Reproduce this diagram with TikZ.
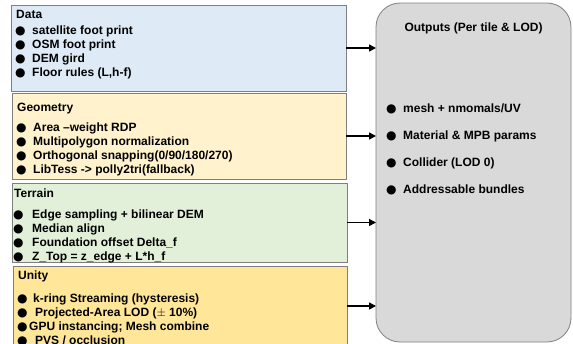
\documentclass[tikz,border=0pt]{standalone}
\usepackage{fontspec}
\setmainfont{Liberation Sans}
\newfontfamily\symfont{DejaVu Sans}
\usetikzlibrary{positioning,arrows.meta}

\definecolor{datafill}{HTML}{DEEBF7}
\definecolor{geomfill}{HTML}{FFF2CC}
\definecolor{terrfill}{HTML}{E2F0D9}
\definecolor{unityfill}{HTML}{FFE699}
\definecolor{outfill}{HTML}{D9D9D9}
\definecolor{rim}{HTML}{7F7F7F}

\newcommand{\bul}[1][16pt]{\makebox[#1][l]{\symfont\fontsize{12}{14}\selectfont\kern-1pt ●}}

\begin{document}
\begin{tikzpicture}[x=1pt, y=-1pt,
	panel/.style={draw=rim, line width=0.8pt, inner sep=0pt, outer sep=0pt, anchor=north west},
	list/.style={font=\bfseries\fontsize{12}{14}\selectfont, align=left, inner sep=0pt},
	feed/.style={-{Triangle[length=7pt,width=7pt]}, line width=1.6pt}]
	\useasboundingbox (0,0) rectangle (573,343);
	\clip (0,0) rectangle (573,343);

	% input panels
	\node (data) [panel, fill=datafill, minimum width=335pt, minimum height=86pt] at (11,5) {};
	\node (geom) [panel, fill=geomfill, minimum width=334pt, minimum height=86pt] at (12,93) {};
	\node (terr) [panel, fill=terrfill, minimum width=335pt, minimum height=79pt] at (12,183) {};
	\node (unity) [panel, fill=unityfill, minimum width=334pt, minimum height=80pt] at (13,266) {};
	\node (outputs) [panel, fill=outfill, rounded corners=24pt, minimum width=195pt, minimum height=339pt] at (376,3) {};

	\node (datatxt) [list, below right=4.7pt and 5pt of data.north west]
		{Data\\[2pt]
		\bul satellite foot print\\
		\bul OSM foot print\\
		\bul DEM gird\\
		\bul Floor rules (L,h-f)};
	\node (geomtxt) [list, below right=9.7pt and 5pt of geom.north west]
		{Geometry\\[6pt]
		\bul Area –weight RDP\\
		\bul Multipolygon normalization\\
		\bul Orthogonal snapping(0/90/180/270)\\
		\bul LibTess -> polly2tri(fallback)};
	\node (terrtxt) [list, below right=5.7pt and 2pt of terr.north west]
		{Terrain\\[7pt]
		\bul[18pt]Edge sampling + bilinear DEM\\
		\bul[18pt]Median align\\
		\bul[18pt]Foundation offset Delta\_f\\
		\bul[18pt]Z\_Top = z\_edge + L*h\_f};
	\node (unitytxt) [list, below right=4.7pt and 5pt of unity.north west]
		{Unity\\[9pt]
		\bul[15pt]k-ring Streaming (hysteresis)\\
		\bul[17pt]Projected-Area LOD ($\pm$ 10\%)\\
		\bul[11pt]GPU instancing; Mesh combine\\
		\bul[17pt]PVS / occlusion};

	% outputs
	\node (outtitle) [list, below=19.6pt of outputs.north] {Outputs (Per tile \& LOD)};
	\node (outlist) [list, font=\bfseries\fontsize{12}{27}\selectfont, below right=100.5pt and 11pt of outputs.north west]
		{\bul mesh + nmomals/UV\\
		\bul Material \& MPB params\\
		\bul Collider (LOD 0)\\
		\bul Addressable bundles};

	\draw[feed] (data.east) -- (data.east -| outputs.west);
	\draw[feed] (geom.east) -- (geom.east -| outputs.west);
	\draw[feed] (terr.east) -- (terr.east -| outputs.west);
	\draw[feed] (unity.east) -- (unity.east -| outputs.west);
\end{tikzpicture}
\end{document}
